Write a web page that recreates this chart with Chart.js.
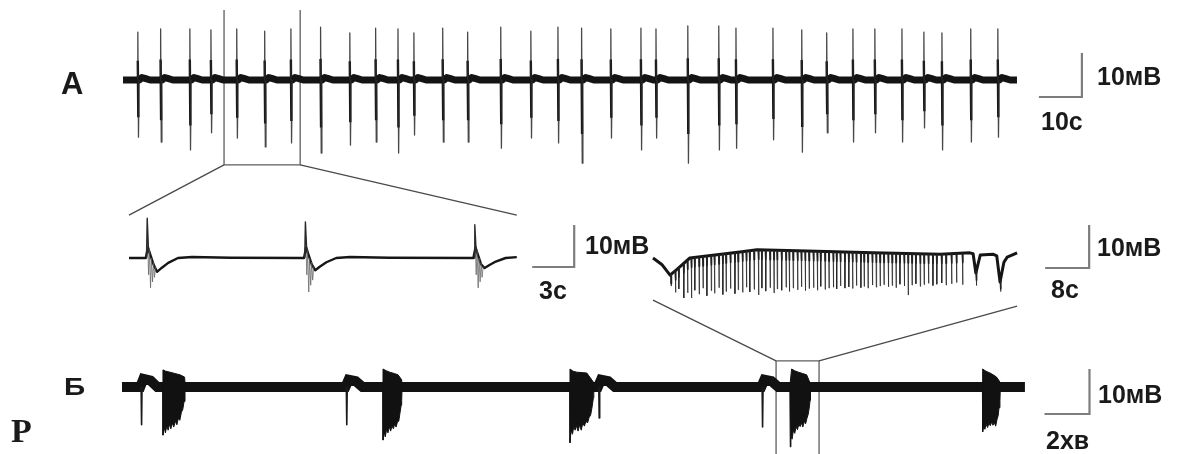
<!DOCTYPE html>
<html><head><meta charset="utf-8">
<script src="https://cdn.jsdelivr.net/npm/chart.js@4.4.1/dist/chart.umd.min.js"></script>
<style>
html,body{margin:0;padding:0;background:#fff;}
#wrap{position:relative;width:1181px;height:454px;overflow:hidden;background:#fff;}
#c{position:absolute;left:0;top:0;}
.lbl{position:absolute;font-family:"Liberation Sans",Arial,sans-serif;font-weight:bold;line-height:1;color:#1a1a1a;white-space:nowrap;}
.serif{font-family:"Liberation Serif","Times New Roman",serif;}
</style></head><body>
<div id="wrap">
<canvas id="c" width="1181" height="454"></canvas>
<div class="lbl" style="left:61px;top:68px;font-size:31px">А</div>
<div class="lbl" style="left:64px;top:376px;font-size:23px;transform:scaleX(1.28);transform-origin:0 0">Б</div>
<div class="lbl serif" style="left:11px;top:414px;font-size:34px">Р</div>
<div class="lbl" style="left:1097px;top:64px;font-size:25px">10мВ</div>
<div class="lbl" style="left:1041px;top:109px;font-size:25px">10с</div>
<div class="lbl" style="left:585px;top:233px;font-size:25px">10мВ</div>
<div class="lbl" style="left:539px;top:278px;font-size:25px">3с</div>
<div class="lbl" style="left:1097px;top:235px;font-size:25px">10мВ</div>
<div class="lbl" style="left:1051px;top:277px;font-size:25px">8с</div>
<div class="lbl" style="left:1098px;top:382px;font-size:25px">10мВ</div>
<div class="lbl" style="left:1046px;top:428px;font-size:25px">2хв</div>
</div>
<script>
const W = 1181, H = 454;

// ---------- Panel A: regular discharges (time, s; potential, mV) ----------
const spikeTimesA = [3.5,8.8,15.6,20.5,26.5,33.0,39.1,46.0,52.8,58.8,64.0,67.7,74.4,80.2,87.9,94.9,101.2,106.7,113.5,120.5,124.0,131.4,138.6,142.6,151.2,157.9,163.7,169.8,174.9,181.2,186.3,190.5,197.2,203.5];
const spikeTopA = [10.9,11.6,11.6,11.4,11.6,11.1,11.6,12.0,10.7,11.8,11.6,10.7,11.8,10.9,12.0,11.1,12.0,11.8,11.6,11.8,11.6,12.3,12.3,11.8,11.8,11.4,10.7,11.6,11.6,11.6,10.9,10.7,11.6,11.6];
const spikeBottomA = [-13.0,-14.1,-15.9,-12.0,-13.2,-15.2,-14.3,-16.6,-14.8,-14.1,-16.6,-12.5,-14.1,-14.1,-15.5,-13.2,-14.3,-18.9,-13.2,-15.9,-13.2,-18.9,-15.9,-15.5,-13.6,-16.4,-12.0,-14.1,-12.0,-14.1,-10.9,-15.9,-14.1,-13.0];
const traceEndA = 207.9;
const zoomWindowA = [23.5, 41.2];      // s
const zoomWindowAV = [15.9, -19.3];    // mV (box top / bottom)

// ---------- Zoom of A (time, s) ----------
const spikeTimesZ = [1.3, 12.6, 24.7];
const spikeTopZ = [9.5, 8.6, 7.9];
const spikeTroughZ = [-3.3, -2.9, -2.4];
const spikeMinZ = [-7.1, -8.1, -7.1];
const traceEndZ = 27.7;

// ---------- Zoom of B burst (time, s) ----------
const envTimesR = [0,1.6,3.1,4.2,6.7,15.8,18.9,28.0,40.0,52.2,57.6,58.2,58.7,59.5,61.8,62.5,63.1,63.8,64.4,66.2];
const envValuesR = [0,-1.5,-4.0,-2.8,0,1.4,1.9,1.6,1.2,0.9,1.2,1.0,-3.5,0.7,0.9,0.5,-5.6,-1.0,0.2,1.2];
const spikeTimesR = [3.3,4.1,4.7,5.6,6.3,7.0,7.6,8.4,9.1,9.8,10.6,11.2,12.0,12.7,13.3,14.1,14.9,15.5,16.3,17.0,17.6,18.4,19.2,19.8,20.5,21.3,22.0,22.6,23.4,24.2,24.8,25.5,26.3,27.0,27.7,28.4,29.2,29.9,30.5,31.3,32.0,32.8,33.4,34.1,34.9,35.6,36.3,37.0,37.8,38.4,39.1,39.9,40.6,41.3,42.0,42.8,43.5,44.2,44.9,45.7,46.4,47.1,47.8,48.6,49.3,50.1,50.9,51.6,52.5,53.3,54.3,55.2,56.3,58.8,63.2];
const spikeDepthR = [-6.5,-8.0,-7.2,-9.3,-8.1,-9.3,-7.5,-8.4,-7.0,-8.8,-7.6,-8.2,-6.9,-8.5,-7.8,-7.1,-8.3,-7.4,-8.0,-6.8,-7.9,-7.3,-8.6,-7.0,-7.7,-6.9,-8.1,-7.2,-7.5,-6.8,-7.8,-7.0,-7.4,-6.7,-7.6,-7.1,-6.9,-7.5,-6.6,-7.3,-7.0,-6.8,-7.2,-6.5,-7.0,-6.7,-7.1,-6.4,-6.9,-6.6,-7.0,-6.3,-6.8,-6.5,-6.2,-6.7,-6.4,-6.9,-6.1,-6.5,-8.6,-6.3,-6.0,-6.6,-6.2,-5.9,-6.4,-6.1,-5.8,-6.3,-6.0,-5.7,-6.2,-6.4,-7.8];

// ---------- Panel B: bursting (time, min; potential, mV) ----------
const traceEndB = 40.13;
const eventTimesB = [0.87, 9.99, 21.21, 28.47];
const eventMinB = [-8.4, -8.4, -6.9, -8.9];
const eventBumpB = [1.8, 1.6, 1.6, 1.6];
const burstStartB = [1.81, 11.59, 19.9, 29.68, 38.24];
const burstEndB = [2.82, 12.45, 20.97, 30.6, 39.04];
const burstTopB = [
  [[1.82,3.8],[1.95,3.5],[2.13,3.3],[2.35,3.0],[2.58,2.7],[2.78,2.2]],
  [[11.6,4.0],[11.75,3.6],[11.9,3.3],[12.1,3.0],[12.27,2.7],[12.43,1.6]],
  [[19.91,4.0],[20.05,3.5],[20.21,3.3],[20.45,3.2],[20.66,3.1],[20.95,1.1]],
  [[29.76,4.0],[29.9,3.6],[30.06,3.3],[30.25,3.0],[30.43,2.7],[30.58,0.9]],
  [[38.25,4.0],[38.4,3.5],[38.58,3.1],[38.72,2.7],[38.87,2.2],[39.02,1.1]]
];
const burstBottomB = [
  [[1.82,-10.7],[1.88,-9.0],[1.93,-10.2],[1.99,-8.6],[2.05,-9.6],[2.11,-8.2],[2.17,-9.3],[2.24,-8.0],[2.3,-8.9],[2.37,-7.6],[2.44,-8.4],[2.5,-7.0],[2.57,-7.4],[2.64,-5.6],[2.7,-5.0],[2.76,-3.2],[2.8,-1.3]],
  [[11.6,-11.8],[11.65,-10.0],[11.7,-11.1],[11.76,-9.4],[11.82,-10.2],[11.88,-8.8],[11.94,-9.8],[12.0,-8.6],[12.06,-9.3],[12.12,-8.2],[12.18,-8.9],[12.24,-7.8],[12.3,-7.6],[12.36,-5.6],[12.41,-4.0],[12.43,-3.0]],
  [[19.91,-12.4],[19.96,-9.6],[20.02,-10.5],[20.08,-8.8],[20.14,-9.6],[20.2,-8.6],[20.27,-9.8],[20.34,-8.4],[20.41,-9.6],[20.48,-8.0],[20.55,-8.7],[20.62,-7.6],[20.69,-8.0],[20.76,-6.8],[20.83,-6.2],[20.9,-4.2],[20.95,-2.4]],
  [[29.7,-13.3],[29.73,-10.5],[29.78,-11.6],[29.84,-9.6],[29.9,-10.3],[29.96,-8.8],[30.02,-9.5],[30.08,-8.3],[30.14,-8.8],[30.2,-8.0],[30.26,-8.9],[30.32,-7.6],[30.38,-8.2],[30.44,-7.0],[30.5,-6.0],[30.55,-4.4],[30.58,-3.0]],
  [[38.25,-10.0],[38.3,-8.8],[38.35,-9.4],[38.41,-8.3],[38.47,-9.0],[38.53,-8.0],[38.59,-8.6],[38.65,-7.8],[38.71,-8.5],[38.77,-7.9],[38.83,-8.7],[38.89,-7.2],[38.94,-6.4],[38.98,-4.6],[39.02,-3.0]]
];
const zoomWindowB = [29.07, 30.98];   // min
const zoomWindowBV = [5.8, -17];      // mV

// ---------- layout of the four panels on the page (pixel origin, px per unit) ----------
const panels = {
  A: {x0:123, kx:4.3, y0:80, ky:4.4},
  Z: {x0:129, kx:14, y0:258, ky:4.2},
  R: {x0:653, kx:5.5, y0:258, ky:4.3},
  B: {x0:122, kx:22.5, y0:387, ky:4.5}
};
// scale bar corners (in panel units) and lengths
const scaleBars = {
  A: {t:223.0, v:-3.86, dt:10, dv:10},
  Z: {t:31.8, v:-2.14, dt:3, dv:10},
  R: {t:79.3, v:-2.33, dt:8, dv:10},
  B: {t:43.0, v:-6.0, dt:2, dv:10}
};

function P(x,y){return {x:x,y:y};}
const GAP = t => ({x:t, y:null});

function lineDs(data, p, color, width, extra){
  return Object.assign({data:data, xAxisID:'x'+p, yAxisID:'y'+p, showLine:true, borderColor:color,
    backgroundColor:color, borderWidth:width, pointRadius:0, pointHoverRadius:0, fill:false, spanGaps:false,
    tension:0, borderJoinStyle:'round', borderCapStyle:'butt'}, extra||{});
}

const datasets = [];

// --- A ---
const bandA = [P(0,0)];
spikeTimesA.forEach(t=>{ bandA.push(P(t-0.2,0),P(t+0.3,0),P(t+0.9,0.55),P(t+1.8,0.3),P(t+2.8,0)); });
bandA.push(P(traceEndA,0));
const spikesA = [], coreA = [];
spikeTimesA.forEach((t,i)=>{
  spikesA.push(P(t-0.15,0),P(t-0.05,spikeTopA[i]),P(t+0.1,spikeBottomA[i]),P(t+0.25,0),GAP(t+0.3));
  coreA.push(P(t-0.06,spikeTopA[i]*0.4),P(t+0.06,spikeBottomA[i]*0.65),GAP(t+0.1));
});
const boxA = [P(zoomWindowA[0],zoomWindowAV[0]),P(zoomWindowA[0],zoomWindowAV[1]),P(zoomWindowA[1],zoomWindowAV[1]),P(zoomWindowA[1],zoomWindowAV[0])];
datasets.push(lineDs(spikesA,'A','rgba(40,40,40,0.85)',1.3));
datasets.push(lineDs(coreA,'A','#111',2.4));
datasets.push(lineDs(bandA,'A','#141414',7));
datasets.push(lineDs(boxA,'A','#5e5e5e',1.3,{borderJoinStyle:'miter'}));

// --- Z ---
const mainZ = [P(0,0)];
spikeTimesZ.forEach((t,i)=>{
  const tr = spikeTroughZ[i];
  [[-0.1,0],[0.05,2.5],[0.45,-1.5],[0.7,tr],[1.05,tr*0.7],[1.5,tr*0.35],[2.2,0],[3.2,0.25],[6,0.05]]
    .forEach(o=>{ if(t+o[0] < traceEndZ) mainZ.push(P(t+o[0], o[1])); });
});
mainZ.push(P(traceEndZ,0.2));
const upZ = [], grayZ = [];
spikeTimesZ.forEach((t,i)=>{
  upZ.push(P(t-0.05,0),P(t,spikeTopZ[i]),P(t+0.1,1.5),GAP(t+0.15));
  const m = spikeMinZ[i];
  [[0.02,5],[0.1,-4],[0.16,2],[0.24,m],[0.3,0],[0.38,m*0.8],[0.45,-1],[0.52,m*0.65],[0.6,-2]]
    .forEach(o=>grayZ.push(P(t+o[0],o[1])));
  grayZ.push(GAP(t+0.7));
});
datasets.push(lineDs(upZ,'Z','#2a2a2a',1.4));
datasets.push(lineDs(grayZ,'Z','rgba(90,90,90,0.7)',1));
datasets.push(lineDs(mainZ,'Z','#161616',2.4));

// --- R ---
function envAt(t){
  for(let i=0;i<envTimesR.length-1;i++){
    if(t>=envTimesR[i] && t<=envTimesR[i+1]){
      const f=(t-envTimesR[i])/(envTimesR[i+1]-envTimesR[i]);
      return envValuesR[i]+f*(envValuesR[i+1]-envValuesR[i]);
    }
  }
  return envValuesR[envValuesR.length-1];
}
const envR = envTimesR.map((t,i)=>P(t,envValuesR[i]));
const spikesR = [], coreR = [];
spikeTimesR.forEach((t,i)=>{
  const e=envAt(t);
  spikesR.push(P(t-0.06,e),P(t,spikeDepthR[i]),P(t+0.06,e),GAP(t+0.1));
  coreR.push(P(t-0.05,e),P(t,e-2.2),P(t+0.05,e),GAP(t+0.1));
});
datasets.push(lineDs(spikesR,'R','rgba(35,35,35,0.75)',1));
datasets.push(lineDs(coreR,'R','#222',1.6));
datasets.push(lineDs(envR,'R','#151515',3));

// --- B ---
const bandB = [P(0,0)];
eventTimesB.forEach((t,i)=>{ bandB.push(P(t-0.06,0),P(t+0.08,eventBumpB[i]),P(t+0.4,eventBumpB[i]*0.8),P(t+0.7,0)); });
bandB.push(P(traceEndB,0));
const spikesB = [];
eventTimesB.forEach((t,i)=>{ spikesB.push(P(t-0.02,0),P(t,eventMinB[i]),P(t+0.02,0),GAP(t+0.05)); });
const topB = [], botB = [];
burstStartB.forEach((s,i)=>{
  topB.push(P(s,0)); burstTopB[i].forEach(q=>topB.push(P(q[0],q[1]))); topB.push(P(burstEndB[i],0)); topB.push(GAP(burstEndB[i]+0.01));
  botB.push(P(s,0)); burstBottomB[i].forEach(q=>botB.push(P(q[0],q[1]))); botB.push(P(burstEndB[i],0)); botB.push(GAP(burstEndB[i]+0.01));
});
const boxB = [P(zoomWindowB[0],zoomWindowBV[1]),P(zoomWindowB[0],zoomWindowBV[0]),P(zoomWindowB[1],zoomWindowBV[0]),P(zoomWindowB[1],zoomWindowBV[1])];
datasets.push(lineDs(spikesB,'B','#1a1a1a',1.6));
datasets.push(lineDs(topB,'B','#111',1,{fill:'origin'}));
datasets.push(lineDs(botB,'B','#111',1,{fill:'origin'}));
datasets.push(lineDs(bandB,'B','#121212',10,{borderJoinStyle:'miter'}));
datasets.push(lineDs(boxB,'B','#5e5e5e',1.3,{borderJoinStyle:'miter'}));

// --- scale bars ---
Object.keys(scaleBars).forEach(k=>{
  const b=scaleBars[k];
  datasets.push(lineDs([P(b.t,b.v+b.dv),P(b.t,b.v),P(b.t-b.dt,b.v)],k,'#7d7d7d',2.2,{borderJoinStyle:'miter'}));
});

// --- scales ---
const scales = {x:{display:false}, y:{display:false}};
Object.keys(panels).forEach(k=>{
  const p=panels[k];
  scales['x'+k]={type:'linear', axis:'x', display:false, min:-p.x0/p.kx, max:(W-p.x0)/p.kx};
  scales['y'+k]={type:'linear', axis:'y', display:false, min:-(H-p.y0)/p.ky, max:p.y0/p.ky};
});

// connectors between an overview window and its zoomed trace
const links = [
  {from:['xA','yA',zoomWindowA[0],zoomWindowAV[1]], to:['xZ','yZ',0,10.2]},
  {from:['xA','yA',zoomWindowA[1],zoomWindowAV[1]], to:['xZ','yZ',traceEndZ,10.2]},
  {from:['xB','yB',zoomWindowB[0],zoomWindowBV[0]], to:['xR','yR',0,-9.8]},
  {from:['xB','yB',zoomWindowB[1],zoomWindowBV[0]], to:['xR','yR',66.2,-11.2]}
];
const connectors = {
  id:'connectors',
  afterDatasetsDraw(chart){
    const s=chart.scales, ctx=chart.ctx;
    ctx.save(); ctx.strokeStyle='#4a4a4a'; ctx.lineWidth=1.3;
    links.forEach(l=>{
      ctx.beginPath();
      ctx.moveTo(s[l.from[0]].getPixelForValue(l.from[2]), s[l.from[1]].getPixelForValue(l.from[3]));
      ctx.lineTo(s[l.to[0]].getPixelForValue(l.to[2]), s[l.to[1]].getPixelForValue(l.to[3]));
      ctx.stroke();
    });
    ctx.restore();
  }
};

new Chart(document.getElementById('c'), {
  type:'scatter',
  data:{datasets:datasets},
  options:{
    responsive:false, animation:false, devicePixelRatio:1, events:[],
    layout:{padding:0},
    plugins:{legend:{display:false}, tooltip:{enabled:false}, title:{display:false}},
    scales:scales
  },
  plugins:[connectors]
});
</script>
</body></html>
